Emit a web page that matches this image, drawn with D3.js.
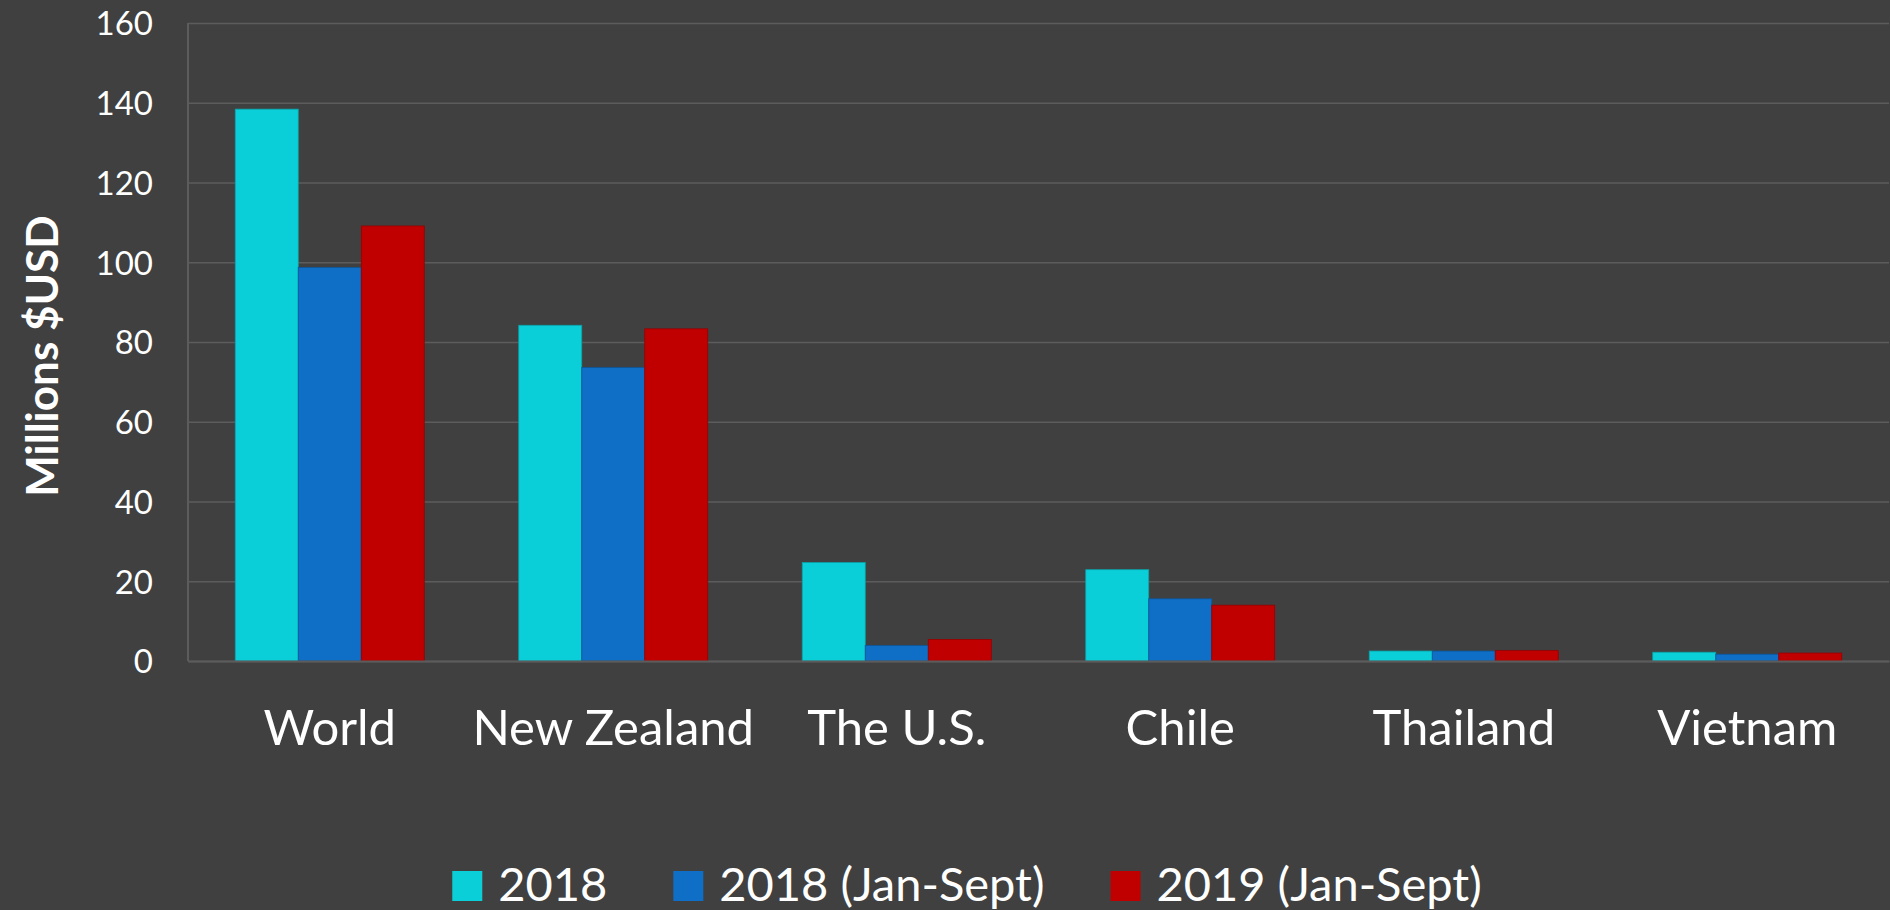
<!DOCTYPE html>
<html>
<head>
<meta charset="utf-8">
<script src="https://cdn.jsdelivr.net/npm/d3@7"></script>
<style>
  html, body { margin: 0; padding: 0; background: #404040; }
  svg { display: block; font-family: Lato, "Open Sans", sans-serif; }
</style>
</head>
<body>
<div id="chart"></div>
<script>
// data
var categories = ["World", "New Zealand", "The U.S.", "Chile", "Thailand", "Vietnam"];
var seriesNames = ["2018", "2018 (Jan-Sept)", "2019 (Jan-Sept)"];
var values2018 = [138.4, 84.2, 24.7, 22.9, 2.5, 2.2];
var valuesJanSept2018 = [98.7, 73.6, 3.9, 15.6, 2.5, 1.7];
var valuesJanSept2019 = [109.1, 83.3, 5.4, 14.0, 2.6, 2.0];
var yTicks = [0, 20, 40, 60, 80, 100, 120, 140, 160];
var colors = ["#0bcfd8", "#0f6fc6", "#c00000"];

var seriesValues = [values2018, valuesJanSept2018, valuesJanSept2019];

var width = 1890;
var height = 910;
var plotLeft = 188;
var plotRight = 1889;
var plotTop = 23;
var plotBottom = 661;
var font = "Lato, 'Open Sans', sans-serif";

var svg = d3.select("#chart")
    .append("svg")
    .attr("width", width)
    .attr("height", height);

svg.append("rect")
    .attr("width", width)
    .attr("height", height)
    .attr("fill", "#404040");

// scales
var x0 = d3.scaleBand()
    .domain(categories)
    .range([plotLeft, plotRight])
    .paddingInner(1/3)
    .paddingOuter(1/6);

var x1 = d3.scaleBand()
    .domain(seriesNames)
    .range([0, x0.bandwidth()]);

var y = d3.scaleLinear()
    .domain([0, 160])
    .range([plotBottom, plotTop]);

// gridlines + y tick labels
var yAxis = d3.axisLeft(y)
    .tickValues(yTicks)
    .tickSize(-(plotRight - plotLeft))
    .tickPadding(35)
    .tickFormat(d3.format("d"));

var yAxisGroup = svg.append("g")
    .attr("class", "yAxis")
    .attr("transform", `translate(${plotLeft},0)`)
    .call(yAxis)
    .attr("font-family", font);

yAxisGroup.select(".domain").remove();
yAxisGroup.selectAll(".tick line")
    .attr("stroke", "#5c5c5c")
    .attr("stroke-width", 1.3);
yAxisGroup.selectAll(".tick text")
    .attr("fill", "#ffffff")
    .attr("font-size", 33)
    .attr("dy", "0.36em");

// left axis line
svg.append("line")
    .attr("x1", plotLeft)
    .attr("x2", plotLeft)
    .attr("y1", plotTop)
    .attr("y2", plotBottom)
    .attr("stroke", "#5c5c5c")
    .attr("stroke-width", 2);

// bars
var groups = svg.append("g")
    .selectAll("g")
    .data(categories)
    .enter()
    .append("g")
    .attr("transform", function(d) { return `translate(${x0(d)},0)`; });

groups.selectAll("rect")
    .data(function(d, i) {
        return seriesNames.map(function(s, j) {
            return { series: s, value: seriesValues[j][i], color: colors[j] };
        });
    })
    .enter()
    .append("rect")
    .attr("x", function(d) { return x1(d.series); })
    .attr("y", function(d) { return y(d.value); })
    .attr("width", x1.bandwidth())
    .attr("height", function(d) { return y(0) - y(d.value); })
    .attr("fill", function(d) { return d.color; })
    .attr("stroke", function(d) { return d3.color(d.color).darker(0.7); })
    .attr("stroke-width", 0.8);

// baseline axis with category labels
var xAxis = d3.axisBottom(x0).tickSize(0).tickPadding(0);
var xAxisGroup = svg.append("g")
    .attr("class", "xAxis")
    .attr("transform", `translate(0,${plotBottom})`)
    .call(xAxis)
    .attr("font-family", font);

xAxisGroup.select(".domain")
    .attr("stroke", "#5c5c5c")
    .attr("stroke-width", 2);
xAxisGroup.selectAll(".tick text")
    .attr("fill", "#ffffff")
    .attr("font-size", 49)
    .attr("y", 84)
    .attr("dy", 0);

// y-axis title
svg.append("text")
    .attr("transform", "translate(58,356) rotate(-90)")
    .attr("text-anchor", "middle")
    .attr("fill", "#ffffff")
    .attr("font-size", 44)
    .attr("font-weight", "bold")
    .text("Millions $USD");

// legend
var legend = svg.append("g").attr("class", "legend");
var lx = 0;
seriesNames.forEach(function(name, i) {
    var item = legend.append("g").attr("transform", `translate(${lx},0)`);
    item.append("rect")
        .attr("x", 0)
        .attr("y", 871)
        .attr("width", 30)
        .attr("height", 30)
        .attr("fill", colors[i]);
    var t = item.append("text")
        .attr("x", 46)
        .attr("y", 901)
        .attr("fill", "#ffffff")
        .attr("font-size", 47)
        .text(name);
    lx += 46 + t.node().getComputedTextLength() + 66;
});
var legendWidth = lx - 66;
legend.attr("transform", `translate(${967 - legendWidth / 2},0)`);
</script>
</body>
</html>
